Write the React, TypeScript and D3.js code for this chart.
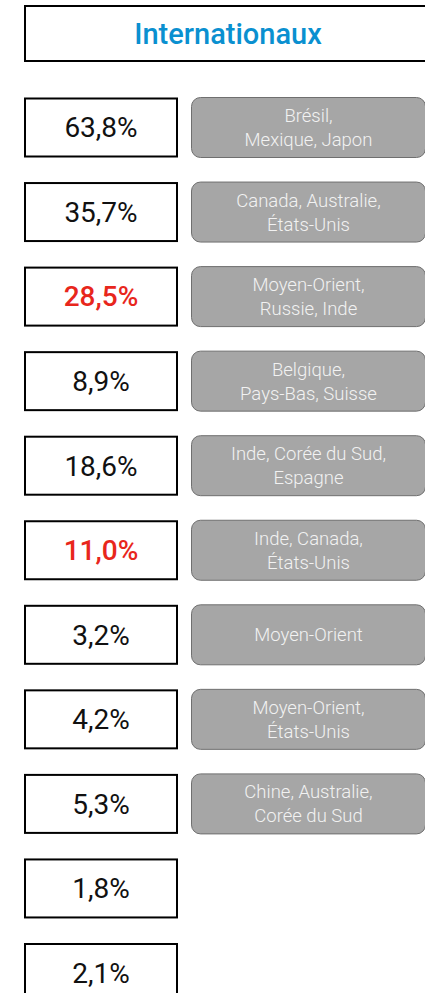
import React from "react";
import * as d3 from "d3";

const title = "Internationaux";
const values = [63.8, 35.7, 28.5, 8.9, 18.6, 11.0, 3.2, 4.2, 5.3, 1.8, 2.1];
const highlighted = [false, false, true, false, false, true, false, false, false, false, false];
const regions: string[][] = [
  ["Brésil,", "Mexique, Japon"],
  ["Canada, Australie,", "États-Unis"],
  ["Moyen-Orient,", "Russie, Inde"],
  ["Belgique,", "Pays-Bas, Suisse"],
  ["Inde, Corée du Sud,", "Espagne"],
  ["Inde, Canada,", "États-Unis"],
  ["Moyen-Orient"],
  ["Moyen-Orient,", "États-Unis"],
  ["Chine, Australie,", "Corée du Sud"],
  [],
  [],
];

const W = 425;
const H = 993;
const fmt = (v: number) => d3.format(".1f")(v).replace(".", ",") + "%";

export default function App() {
  const y = d3
    .scalePoint<number>()
    .domain(values.map((_, i) => i))
    .range([127.5, 973]);
  const valX = 25;
  const valW = 152;
  const valH = 58;
  const grayX = 191.5;
  const grayW = 234;
  const grayH = 60;
  const lineH = 24;
  return (
    <svg
      width={W}
      height={H}
      style={{ position: "absolute", left: 0, top: 0, display: "block", background: "#fff" }}
      fontFamily="Roboto, 'Open Sans', sans-serif"
    >
      <rect x={25} y={6} width={420} height={55} fill="#fff" stroke="#000" strokeWidth={2} />
      <text x={228} y={44} textAnchor="middle" fontSize={29} fontWeight={500} fill="#0a90d0">
        {title}
      </text>
      {values.map((v, i) => {
        const cy = y(i) as number;
        const lines = regions[i];
        return (
          <g key={i}>
            <rect
              x={valX}
              y={cy - valH / 2}
              width={valW}
              height={valH}
              fill="#fff"
              stroke="#000"
              strokeWidth={2}
            />
            <text
              x={valX + valW / 2}
              y={cy}
              dy="0.35em"
              textAnchor="middle"
              fontSize={28}
              fontWeight={highlighted[i] ? 500 : 400}
              fill={highlighted[i] ? "#e8261c" : "#111"}
            >
              {fmt(v)}
            </text>
            {lines.length > 0 && (
              <g>
                <rect
                  x={grayX}
                  y={cy - grayH / 2}
                  width={grayW}
                  height={grayH}
                  rx={9}
                  ry={9}
                  fill="#a6a6a6"
                  stroke="#6f6f6f"
                  strokeWidth={1}
                />
                {lines.map((t, j) => (
                  <text
                    key={j}
                    x={grayX + grayW / 2}
                    y={cy + (j - (lines.length - 1) / 2) * lineH}
                    dy="0.35em"
                    textAnchor="middle"
                    fontSize={18.5}
                    fontWeight={300}
                    fill="#f2f2f2"
                  >
                    {t}
                  </text>
                ))}
              </g>
            )}
          </g>
        );
      })}
    </svg>
  );
}
